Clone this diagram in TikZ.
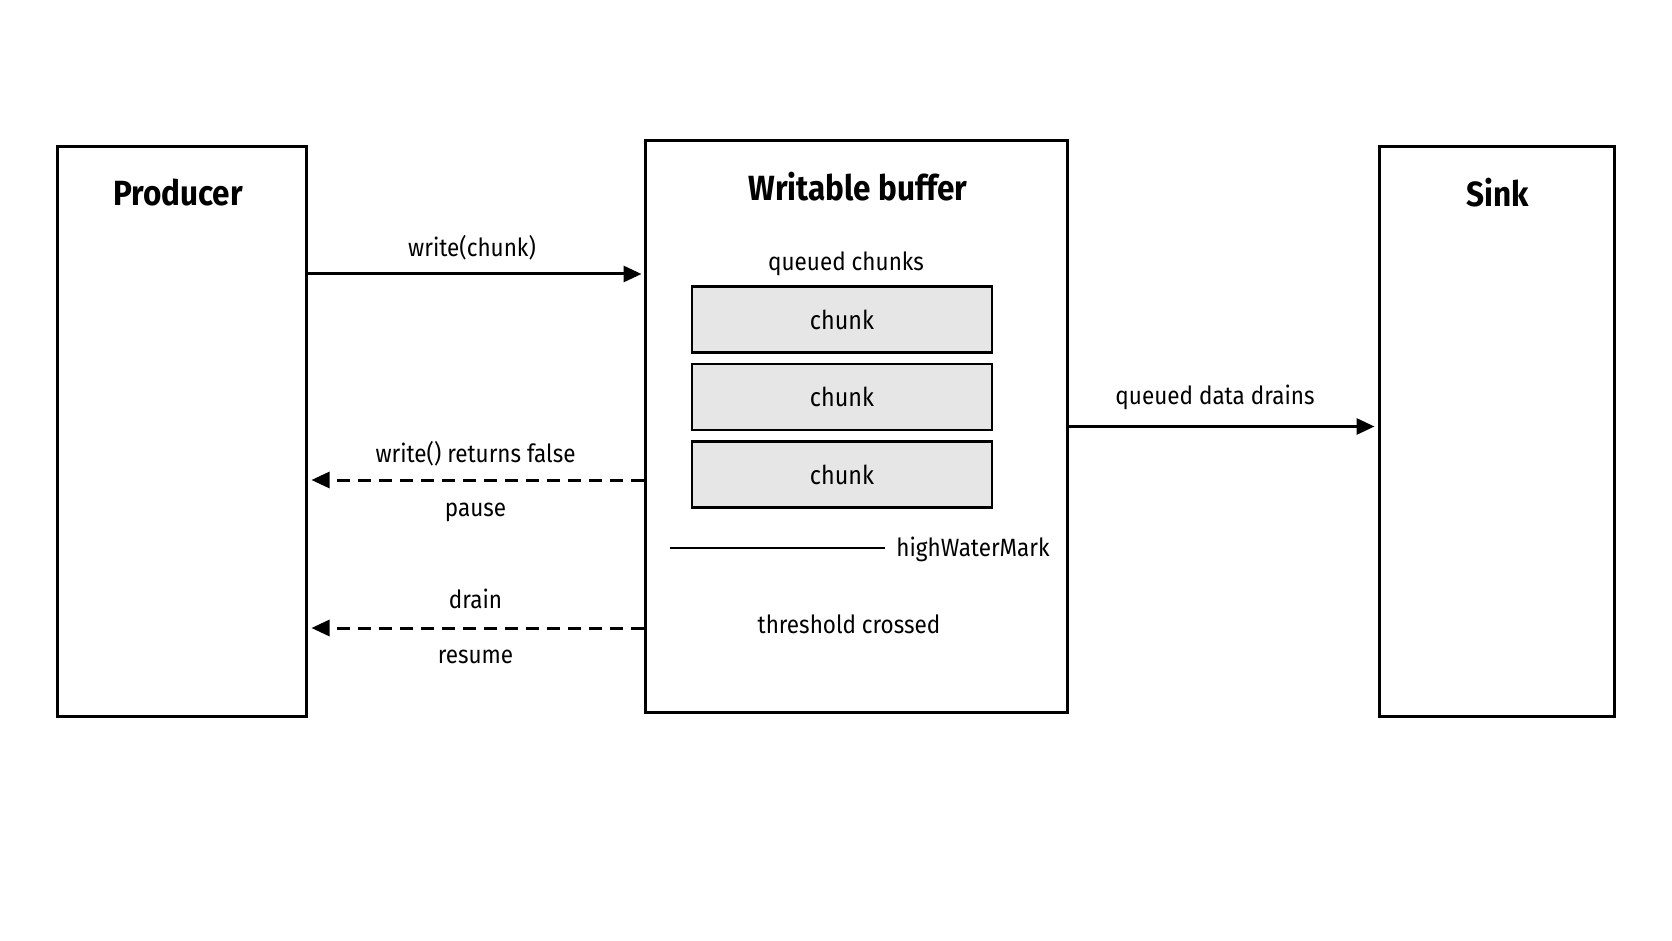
\documentclass[tikz,border=0pt]{standalone}
\usepackage{fontspec}
\setmainfont{Fira Sans}[FakeStretch=0.9]
\usetikzlibrary{arrows.meta,positioning}
\definecolor{chunkfill}{HTML}{E6E6E6}
\tikzset{
  box/.style={draw=black,line width=1.5pt,fill=white,inner sep=0pt},
  chunkbox/.style={draw=black,line width=1.2pt,fill=chunkfill,minimum width=150pt,minimum height=33pt,inner sep=0pt,font=\fontsize{13}{15}\selectfont},
  boxtitle/.style={font=\fontsize{17.5}{21}\selectfont\bfseries,inner sep=0pt},
  lbl/.style={font=\fontsize{12.5}{15}\selectfont,inner sep=0pt},
  flow/.style={-{Triangle[length=9pt,width=8pt]},line width=1.5pt,draw=black},
  backflow/.style={flow,dash pattern=on 6.5pt off 4pt}
}
\begin{document}
\begin{tikzpicture}[x=0.5pt,y=-0.5pt]
  \useasboundingbox (0,0) rectangle (1672,941);
  \node[box,minimum width=124.2pt,minimum height=284.8pt] (producer) at (181.8,431.8) {};
  \node[box,minimum width=211pt,minimum height=285.5pt] (buffer) at (856,426.5) {};
  \node[box,minimum width=117.5pt,minimum height=284.8pt] (sink) at (1496.5,431.8) {};
  \node[boxtitle] (producertitle) at (178,193) {Producer};
  \node[boxtitle] (buffertitle) at (858,187) {Writable buffer};
  \node[boxtitle] (sinktitle) at (1498,193) {Sink};
  % queue inside the buffer
  \node[lbl] (queuelabel) at (846,264) {queued chunks};
  \node[chunkbox] (chunka) at (842,319.5) {chunk};
  \node[chunkbox] (chunkb) at (842,397) {chunk};
  \node[chunkbox] (chunkc) at (842,474.5) {chunk};
  \node[lbl,anchor=west] (hwm) at (896,549) {highWaterMark};
  \coordinate (hwmstart) at (670,548);
  \draw[line width=1.3pt] (hwmstart) -- ([xshift=-5.5pt]hwm.west |- hwmstart);
  \node[lbl] (threshold) at (849,624) {threshold crossed};
  % connectors
  \coordinate (writey) at (0,274);
  \coordinate (pausey) at (0,480);
  \coordinate (drainy) at (0,628);
  \coordinate (sinky) at (0,426.5);
  \draw[flow,shorten >=1pt] (producer.east |- writey) -- (buffer.west |- writey);
  \draw[backflow,shorten >=2pt] (buffer.west |- pausey) -- (producer.east |- pausey);
  \draw[backflow,shorten >=2pt] (buffer.west |- drainy) -- (producer.east |- drainy);
  \draw[flow,shorten >=1.5pt] (buffer.east |- sinky) -- (sink.west |- sinky);
  \node[lbl] (writelabel) at (472,248) {write(chunk)};
  \node[lbl] (falselabel) at (475.5,454) {write() returns false};
  \node[lbl] (pauselabel) at (475.5,512) {pause};
  \node[lbl] (drainlabel) at (475.5,599) {drain};
  \node[lbl] (resumelabel) at (475.5,657) {resume};
  \node[lbl] (drainslabel) at (1215,397) {queued data drains};
\end{tikzpicture}
\end{document}
